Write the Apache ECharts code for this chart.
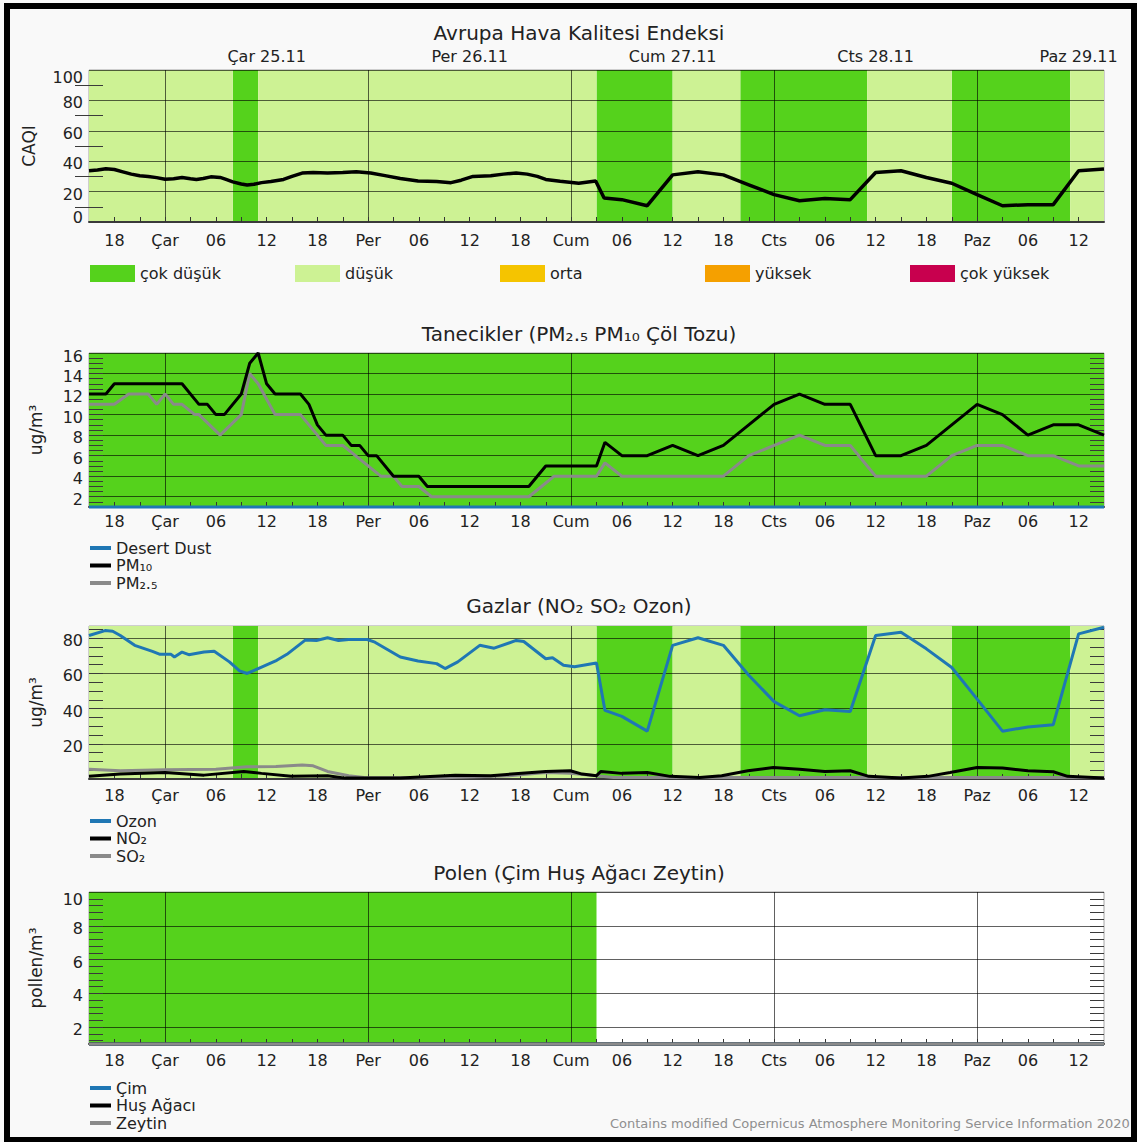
<!DOCTYPE html>
<html><head><meta charset="utf-8">
<script src="https://cdn.jsdelivr.net/npm/echarts@6/dist/echarts.min.js"></script>
<style>
html,body{margin:0;padding:0;background:#fff;}
#chart{position:absolute;left:0;top:0;width:1137px;height:1142px;}
#frame{position:absolute;left:4px;top:3px;width:1133px;height:1139px;box-sizing:border-box;border:6px solid #000;border-bottom-width:5px;pointer-events:none;}
</style></head><body>
<div id="chart"></div><div id="frame"></div>
<script>
// ---------- time axis (hours after Tue 24.11 15:00) ----------
const hourTicks  = [3,9,15,21,27,33,39,45,51,57,63,69,75,81,87,93,99,105,111,117];
const hourLabels = ['18','Çar','06','12','18','Per','06','12','18','Cum','06','12','18','Cts','06','12','18','Paz','06','12'];
const dateTicks  = [21,45,69,93,117];
const dateLabels = ['Çar 25.11','Per 26.11','Cum 27.11','Cts 28.11','Paz 29.11'];
const midnights  = [9,33,57,81,105];

// ---------- categories ----------
const caqiCategories = ['çok düşük','düşük','orta','yüksek','çok yüksek'];

// ---------- background bands [fromHour, toHour] ----------
const caqiVeryLowBands = [[17,20],[60,69],[77,92],[102,116]];
const caqiLowBands     = [[0,17],[20,60],[69,77],[92,102],[116,120]];
const pmVeryLowBands   = [[0,120]];
const gasVeryLowBands  = [[17,20],[60,69],[77,92],[102,116]];
const gasLowBands      = [[0,17],[20,60],[69,77],[92,102],[116,120]];
const pollenVeryLowBands = [[0,60]];

// ---------- series [hour, value] ----------
const caqi = [[0,33.7],[1,34.2],[2,35],[3,34.5],[4,33],[5,31.5],[6,30.4],[7,30],[8,29.2],[9,28.1],[10,28.5],[11,29.3],[12,28.4],[12.7,28],[13.5,28.6],[14.4,29.7],[15.5,29.3],[16.2,28],[17,26.4],[18,25],[18.7,24.3],[19.5,24.8],[20.4,25.9],[21.5,26.6],[23,28],[24,30],[25.2,32.2],[26.5,32.5],[28.2,32.2],[30,32.5],[31.6,33],[33.3,32.2],[35,30.5],[36.8,28.6],[38.9,27],[41.1,26.6],[42.8,25.9],[44,27.5],[45.4,30],[47.5,30.4],[49,31.5],[50.5,32.2],[51.8,31.5],[53,30],[54,28],[55.7,26.8],[57.9,25.5],[59.9,27],[60.9,15.8],[63,14.7],[66,10.7],[69,31],[72,33],[75,31],[78,24.5],[81,18],[84,14],[87,15.4],[90,14.7],[93,32.6],[96,33.7],[99,29.3],[102,25.5],[105,18],[108,10.7],[111,11.4],[114,11.4],[117,33.7],[120,34.9]];

const pm10 = [[0,12],[2,12],[3,13],[11,13],[13,11],[14,11],[15,10],[16,10],[18,12],[19,15],[20,16],[21,13],[22,12],[25,12],[26,11],[27,9],[28,8],[30,8],[31,7],[32,7],[33,6],[34,6],[36,4],[39,4],[40,3],[52,3],[54,5],[60,5],[61,7.3],[63,6],[66,6],[69,7],[72,6],[75,7],[78,9],[81,11],[84,12],[87,11],[90,11],[93,6],[96,6],[99,7],[102,9],[105,11],[108,10],[111,8],[114,9],[117,9],[120,8]];
const pm25 = [[0,11],[3,11],[4.7,12],[7,12],[8,11],[9,12],[10,11],[11,11],[12.5,10],[13,10],[15.5,8],[18,10],[19,14],[20,13],[22,10],[25,10],[28,7],[30,7],[33,5],[34.5,4],[36,4],[37,3],[39,3],[40.5,2],[52,2],[53.5,3],[55,4],[60,4],[61,5.3],[63,4],[75,4],[78,6],[81,7],[84,8],[87,7],[90,7],[93,4],[99,4],[102,6],[105,7],[108,7],[111,6],[114,6],[117,5],[120,5]];
const desertDust = [[0,0],[120,0]];

const ozone = [[0,81.6],[1.9,84.4],[2.8,84],[3.7,81.6],[5.4,76],[7.5,72.6],[8.4,70.9],[9.7,70.9],[10.1,69.4],[11,72.2],[11.8,70.7],[13.6,72.2],[14.8,72.6],[16.6,66.6],[17.8,61.5],[18.7,60],[20,62.8],[22.2,67.5],[23.4,70.9],[25.6,79.1],[26.9,78.8],[28.2,80.3],[29.5,78.8],[30.7,79.3],[32.9,79.3],[33.8,77.8],[36.8,69.4],[38.9,67.1],[41.1,65.6],[42.1,62.8],[43.6,66.6],[46.2,76],[47.9,74.4],[50.5,78.8],[51.4,78.2],[54,68.4],[54.8,69],[56.1,64.7],[57.4,63.8],[60,66],[61,39],[63,35.6],[66,27.2],[69,76],[72,80.3],[75,76],[78,59],[81,44],[84,36],[87,39.4],[90,38.4],[93,81.6],[96,83.5],[99,74],[102,63.4],[105,45.4],[108,27.2],[111,29.6],[114,30.9],[117,82.5],[120,86.3]];
const no2 = [[0,1.5],[3.7,2.8],[9,3.7],[13.6,2.2],[18.3,4.3],[20.4,3.2],[23.9,1.5],[28.2,1.9],[30.3,0.5],[36.8,0.5],[43.3,2.2],[47.5,1.9],[54,4.3],[56.9,4.7],[58.3,2.8],[60,1.9],[60.5,4.3],[63,3.2],[66,3.7],[68.7,1.5],[72.2,0.9],[74.8,1.9],[77.9,4.7],[80.9,6.5],[84,5.6],[87,4.3],[90,4.7],[92.2,1.5],[96,0.5],[99.2,1.5],[101.8,3.7],[105,6.5],[108,6.2],[111,4.7],[114,4.1],[115.7,1.5],[120,0.5]];
const so2 = [[0,5.6],[3.7,4.7],[9,5.3],[15,5.6],[18.7,6.9],[22.1,7.1],[25.2,8],[26.5,7.5],[28.2,4.3],[30.7,1.9],[32.5,0.9],[41,0.5],[49.7,1.9],[54,3.7],[56.9,3.3],[60,1.9],[62,0.8],[120,0.8]];

const grass = [[0,0],[120,0]];
const birch = [[0,0],[120,0]];
const olive = [[0,0],[120,0]];

// ---------- styles ----------
const DARK='#55d21c', LIGHT='#cdf294', ORTA='#f5c400', YUKSEK='#f5a000', COKYUKSEK='#c8004e';
const BLUE='#1f77b4', GRAY='#8a8a8a', BLACK='#000000';
const FONT='DejaVu Sans', TXT='#222222';
const GRIDC='rgba(0,0,0,0.62)';

function steps(a,b,s){const r=[];for(let v=a;v<=b+1e-9;v+=s)r.push(Math.round(v*100)/100);return r;}

const panels = [
  {top:70,  height:152, min:0, max:100, majors:[0,20,40,60,80,100], minors:[10,30,50,70,90], name:'CAQI', nameGap:52, xMargin:10, topPad:14},
  {top:353, height:154, min:1, max:16,  majors:[2,4,6,8,10,12,14,16], minors:steps(1.5,15.5,0.5), name:'ug/m³', nameGap:45, xMargin:6, topPad:7},
  {top:626, height:153, min:0, max:87,  majors:[20,40,60,80], minors:steps(5,85,5), name:'ug/m³', nameGap:45, xMargin:8, topPad:14},
  {top:892, height:152, min:1, max:10,  majors:[2,4,6,8,10], minors:steps(1.2,9.6,0.4), name:'pollen/m³', nameGap:45, xMargin:8, topPad:14}
];

const grid=[], xAxis=[], yAxis=[], series=[];
const lab = {fontSize:16, fontFamily:FONT, color:TXT};
panels.forEach((p,gi)=>{
  grid.push({left:89, top:p.top, width:1015, height:p.height, show:true, backgroundColor:'#ffffff', borderColor:'rgba(0,0,0,0.35)', borderWidth:1, containLabel:false, outerBoundsMode:'none'});
  xAxis.push({gridIndex:gi, type:'value', min:0, max:120, position:'bottom', z:3,
    axisLine:{show:true, onZero:false, lineStyle:{color:'#3a3a3a', width:2}},
    axisTick:{show:true, inside:true, length:5, customValues:steps(3,117,3), lineStyle:{color:'#333', width:1}},
    axisLabel:{show:true, customValues:hourTicks, margin:p.xMargin, showMinLabel:true, showMaxLabel:true, hideOverlap:false,
      formatter:v=>hourLabels[hourTicks.indexOf(v)], ...lab},
    splitLine:{show:false}});
  xAxis.push({gridIndex:gi, type:'value', min:0, max:120, position:'bottom', z:1.5,
    axisLine:{show:false}, axisLabel:{show:false},
    axisTick:{show:false, customValues:midnights},
    splitLine:{show:true, lineStyle:{color:GRIDC, width:1}}});
  yAxis.push({gridIndex:gi, type:'value', min:p.min, max:p.max, position:'left', z:1.5,
    axisLine:{show:false}, axisTick:{show:false, customValues:p.majors},
    axisLabel:{customValues:p.majors, margin:6, showMinLabel:true, showMaxLabel:true, hideOverlap:false,
      formatter:v=> (v===p.max?'{t|':(v===p.min?'{b|':'{n|'))+v+'}', ...lab,
      rich:{n:{...lab, padding:[5,0,0,0]}, t:{...lab, padding:[p.topPad,0,0,0]}, b:{...lab, padding:[0,0,10,0]}}},
    splitLine:{show:true, lineStyle:{color:GRIDC, width:1}},
    name:p.name, nameLocation:'middle', nameRotate:90, nameGap:p.nameGap,
    nameTextStyle:{fontSize:17, fontFamily:FONT, color:TXT}});
  ['left','right'].forEach(pos=>yAxis.push({gridIndex:gi, type:'value', min:p.min, max:p.max, position:pos, offset:0, z:1.6,
    axisLine:{show:false}, axisLabel:{show:false}, splitLine:{show:false},
    axisTick:{show:true, inside:true, length:14, customValues:p.minors, lineStyle:{color:'#3a3a3a', width:1}}}));
});
// top date axis for first panel
xAxis.push({gridIndex:0, type:'value', min:0, max:120, position:'top', z:3,
  axisLine:{show:false}, axisTick:{show:false}, splitLine:{show:false},
  axisLabel:{customValues:dateTicks, margin:6, showMinLabel:true, showMaxLabel:true, hideOverlap:false,
    formatter:v=>dateLabels[dateTicks.indexOf(v)], ...lab}});

function bandSeries(name,color,bands,gi){
  return {type:'line', name, xAxisIndex:gi*2, yAxisIndex:gi*3, data:[], silent:true, color,
    itemStyle:{color}, lineStyle:{color},
    markArea:{silent:true, z:1, label:{show:false}, itemStyle:{color, borderWidth:0, opacity:1},
      data:bands.map(b=>[{xAxis:b[0]},{xAxis:b[1]}])}};
}
function lineSeries(name,color,data,gi,width,clip){
  const mn = panels[gi].min;
  return {type:'line', name, xAxisIndex:gi*2, yAxisIndex:gi*3, color, silent:true,
    data:data.map(d=>[d[0], Math.max(d[1], mn)]), showSymbol:false, symbol:'none', clip:clip,
    lineStyle:{color, width}, itemStyle:{color}, z:3};
}
// panel 1
series.push(bandSeries(caqiCategories[0],DARK,caqiVeryLowBands,0));
series.push(bandSeries(caqiCategories[1],LIGHT,caqiLowBands,0));
series.push(bandSeries(caqiCategories[2],ORTA,[],0));
series.push(bandSeries(caqiCategories[3],YUKSEK,[],0));
series.push(bandSeries(caqiCategories[4],COKYUKSEK,[],0));
series.push(lineSeries('CAQI',BLACK,caqi,0,3.5,true));
// panel 2
series.push(bandSeries(caqiCategories[0],DARK,pmVeryLowBands,1));
series.push(lineSeries('PM₂.₅',GRAY,pm25,1,3,true));
series.push(lineSeries('PM₁₀',BLACK,pm10,1,3,true));
series.push(lineSeries('Desert Dust',BLUE,desertDust,1,3,false));
// panel 3
series.push(bandSeries(caqiCategories[0],DARK,gasVeryLowBands,2));
series.push(bandSeries(caqiCategories[1],LIGHT,gasLowBands,2));
series.push(lineSeries('SO₂',GRAY,so2,2,3,true));
series.push(lineSeries('NO₂',BLACK,no2,2,3,true));
series.push(lineSeries('Ozon',BLUE,ozone,2,3,true));
// panel 4
series.push(bandSeries(caqiCategories[0],DARK,pollenVeryLowBands,3));
series.push(lineSeries('Çim',BLUE,grass,3,3,false));
series.push(lineSeries('Huş Ağacı',BLACK,birch,3,3,false));
series.push(lineSeries('Zeytin',GRAY,olive,3,3,false));

const legText = {fontSize:16, fontFamily:FONT, color:TXT};
const legend = [];
[90,295,500,705,910].forEach((x,i)=>legend.push({data:[caqiCategories[i]], left:x, top:265, icon:'rect', itemWidth:45, itemHeight:17, padding:0, selectedMode:false, textStyle:legText}));
function vLegend(names,top){
  return {data:names, left:90, top, orient:'vertical', icon:'rect', itemWidth:21, itemHeight:4, itemGap:1.5, padding:0, selectedMode:false, textStyle:{...legText, lineHeight:15}};
}
legend.push(vLegend(['Desert Dust','PM₁₀','PM₂.₅'],540));
legend.push(vLegend(['Ozon','NO₂','SO₂'],813));
legend.push(vLegend(['Çim','Huş Ağacı','Zeytin'],1080));

function gtext(text,x,y,size,extra){
  return {type:'text', x, y, silent:true, z:10, style:Object.assign({text, fontSize:size, fontFamily:FONT, fill:TXT, align:'center', verticalAlign:'middle'}, extra||{})};
}
const graphic = [
  gtext('Avrupa Hava Kalitesi Endeksi',579,33,20),
  gtext('Tanecikler (PM₂.₅ PM₁₀ Çöl Tozu)',579,334,20),
  gtext('Gazlar (NO₂ SO₂ Ozon)',579,606,20),
  gtext('Polen (Çim Huş Ağacı Zeytin)',579,873,20),
  gtext('Contains modified Copernicus Atmosphere Monitoring Service Information 2020',610,1123,13,{align:'left', fill:'#8f8f8f'})
];

const chart = echarts.init(document.getElementById('chart'), null, {renderer:'svg'});
chart.setOption({
  animation:false, backgroundColor:'#f9f9f9',
  grid, xAxis, yAxis, series, legend, graphic, tooltip:{show:false}
});
</script></body></html>
